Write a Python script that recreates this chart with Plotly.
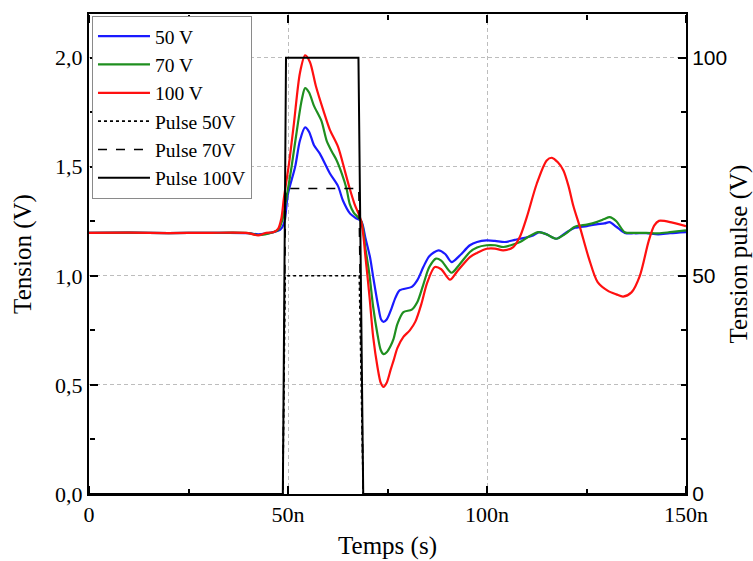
import plotly.graph_objects as go

# ---- data (time in ns, tension in V) ----
t_blue = [0, 10, 20, 30, 40, 42.5, 46.3, 48, 49, 50, 51.8, 53, 54.3, 55.3, 56.5, 58, 60.5, 62.6, 63.8, 65.6, 67, 68.4,
          69.5, 70.6, 71.4, 72.7, 73.4, 74, 74.8, 76, 77, 78.1, 81.1, 82.5, 84, 85.5, 87.8, 89.5, 91.1, 93, 95.7, 97.5,
          99.9, 102, 104.5, 107, 108.3, 111.6, 113.1, 115, 117.4, 120, 122.1, 125.1, 127.5, 129.5, 130.8, 132.5, 134.6,
          137, 140, 143, 146, 150]
v_blue = [1.197, 1.198, 1.196, 1.197, 1.196, 1.19, 1.2, 1.21, 1.24, 1.376, 1.5, 1.62, 1.68, 1.66, 1.60, 1.56, 1.47, 1.41,
          1.345, 1.285, 1.265, 1.25, 1.17, 1.086, 0.995, 0.857, 0.80, 0.789, 0.80, 0.85, 0.90, 0.934, 0.949, 0.98, 1.04,
          1.09, 1.117, 1.10, 1.063, 1.09, 1.14, 1.155, 1.162, 1.16, 1.155, 1.165, 1.17, 1.185, 1.20, 1.19, 1.17, 1.20,
          1.22, 1.228, 1.236, 1.24, 1.246, 1.225, 1.197, 1.195, 1.195, 1.19, 1.195, 1.20]

t_green = [0, 10, 20, 30, 40, 42.5, 46.3, 47.5, 48.5, 49.5, 50.9, 52.5, 53.5, 54.3, 55.3, 56.5, 58.4, 59.7, 61, 62.2,
           63.5, 64.7, 65.5, 66.5, 68.4, 69.5, 70.5, 71.4, 72.5, 73.3, 74, 74.8, 75.8, 76.5, 77.5, 79, 81.1, 82.5, 84,
           85.5, 87.2, 88.5, 91.1, 93, 95.7, 97.5, 99.9, 102, 104.1, 106, 108.3, 110.5, 112.9, 115, 117.4, 119.5, 122.1,
           125.1, 127.5, 129.5, 130.8, 132.5, 134.6, 137, 140, 143, 146, 150]
v_green = [1.197, 1.198, 1.196, 1.197, 1.196, 1.187, 1.2, 1.21, 1.25, 1.345, 1.5, 1.70, 1.81, 1.86, 1.84, 1.78, 1.71,
           1.62, 1.57, 1.53, 1.47, 1.40, 1.33, 1.29, 1.25, 1.12, 1.0, 0.857, 0.73, 0.66, 0.641, 0.65, 0.68, 0.71, 0.78,
           0.834, 0.845, 0.88, 0.96, 1.04, 1.079, 1.07, 1.014, 1.05, 1.109, 1.13, 1.14, 1.14, 1.132, 1.14, 1.155, 1.18,
           1.20, 1.19, 1.17, 1.19, 1.225, 1.235, 1.246, 1.26, 1.269, 1.25, 1.20, 1.197, 1.197, 1.195, 1.20, 1.208]

t_red = [0, 10, 20, 30, 40, 42.5, 44.5, 46.3, 47.5, 48.3, 49.0, 50.3, 51.5, 53, 54.3, 55.5, 57, 58.9, 60.5, 62.6, 64.3,
         65.5, 66.7, 68.4, 69.5, 70.5, 71.4, 72.5, 73.3, 74, 74.8, 75.8, 76.5, 77.5, 79, 80.6, 82, 83.5, 85, 86.9, 88.5,
         90.7, 92.5, 95.7, 97.5, 99.9, 102, 104.1, 106.6, 108.3, 110, 112.5, 115, 116.3, 117.8, 119.2, 120.5, 121.7,
         123.4, 125.6, 127.8, 130.3, 132.5, 134.2, 136.3, 138.4, 140.6, 142, 143.2, 146.6, 150]
v_red = [1.197, 1.198, 1.196, 1.197, 1.196, 1.185, 1.197, 1.20, 1.215, 1.26, 1.36, 1.52, 1.70, 1.93, 2.01, 1.98, 1.87,
         1.757, 1.67, 1.59, 1.48, 1.40, 1.33, 1.25, 1.08, 0.90, 0.72, 0.58, 0.51, 0.491, 0.51, 0.57, 0.61, 0.67, 0.72,
         0.75, 0.79, 0.87, 0.97, 1.04, 1.03, 0.982, 1.02, 1.086, 1.105, 1.124, 1.125, 1.117, 1.132, 1.18, 1.269, 1.422,
         1.529, 1.541, 1.52, 1.483, 1.41, 1.32, 1.22, 1.08, 0.971, 0.932, 0.915, 0.905, 0.924, 1.0, 1.158, 1.23, 1.252,
         1.244, 1.228]

# pulses (ns, V)
t_pulse50 = [0, 48.7, 49.3, 67.9, 68.9, 150]
v_pulse50 = [0, 0, 50, 50, 0, 0]
t_pulse70 = [0, 48.7, 49.4, 67.8, 68.9, 150]
v_pulse70 = [0, 0, 70, 70, 0, 0]
t_pulse100 = [0, 48.7, 49.5, 67.7, 68.9, 150]
v_pulse100 = [0, 0, 100, 100, 0, 0]

x_range = [0, 150]
y_range = [0, 2.2]
y2_range = [0, 110]
x_tickvals = [0, 50, 100, 150]
x_ticktext = ["0", "50n", "100n", "150n"]
y_tickvals = [0, 0.5, 1.0, 1.5, 2.0]
y_ticktext = ["0,0", "0,5", "1,0", "1,5", "2,0"]
y2_tickvals = [0, 50, 100]

SERIF = "Liberation Serif"
SANS = "Liberation Sans"

fig = go.Figure()
sp = dict(shape="spline", smoothing=0.8)
fig.add_trace(go.Scatter(x=t_blue, y=v_blue, mode="lines", name="50 V",
                         line=dict(color="#1a1aff", width=2.2, **sp)))
fig.add_trace(go.Scatter(x=t_green, y=v_green, mode="lines", name="70 V",
                         line=dict(color="#1f8f1f", width=2.2, **sp)))
fig.add_trace(go.Scatter(x=t_red, y=v_red, mode="lines", name="100 V",
                         line=dict(color="#ff1010", width=2.2, **sp)))
fig.add_trace(go.Scatter(x=t_pulse50, y=v_pulse50, mode="lines", name="Pulse 50V", yaxis="y2",
                         line=dict(color="black", width=1.6, dash="dot")))
fig.add_trace(go.Scatter(x=t_pulse70, y=v_pulse70, mode="lines", name="Pulse 70V", yaxis="y2",
                         line=dict(color="black", width=1.6, dash="dash")))
fig.add_trace(go.Scatter(x=t_pulse100, y=v_pulse100, mode="lines", name="Pulse 100V", yaxis="y2",
                         line=dict(color="black", width=2)))
# empty helper traces so the tick-only axes get drawn
fig.add_trace(go.Scatter(x=[], y=[], xaxis="x2", yaxis="y3", showlegend=False, hoverinfo="skip"))
fig.add_trace(go.Scatter(x=[], y=[], xaxis="x3", yaxis="y4", showlegend=False, hoverinfo="skip"))

grid = dict(showgrid=True, gridcolor="#bdbdbd", gridwidth=1, griddash="4px,3px")
# tick-only axes: "outside" ticks placed on the opposite edge so they point into the plot
tko = dict(ticks="outside", ticklen=8, tickwidth=2, tickcolor="#000000",
           showticklabels=False, showline=False, showgrid=False, zeroline=False, automargin=False)
mto = dict(ticks="outside", ticklen=5, tickwidth=2, tickcolor="#000000", showgrid=False)

fig.update_layout(
    width=753, height=561,
    margin=dict(l=89, r=67, t=14, b=67, autoexpand=False),
    plot_bgcolor="white", paper_bgcolor="white",
    font=dict(family=SERIF, size=22, color="black"),
    showlegend=True,
    legend=dict(x=0.005, y=0.996, xanchor="left", yanchor="top",
                bgcolor="white", bordercolor="#8a8a8a", borderwidth=1,
                font=dict(family=SERIF, size=19.5), tracegroupgap=0,
                itemwidth=52),
    xaxis=dict(range=x_range, tickvals=x_tickvals, ticktext=x_ticktext, ticks="",
               showline=True, linecolor="black", linewidth=2, mirror=True, automargin=False,
               tickfont=dict(family=SERIF, size=22),
               title=dict(text="Temps (s)", font=dict(family=SERIF, size=25), standoff=10),
               zeroline=False, **grid),
    yaxis=dict(range=y_range, tickvals=y_tickvals, ticktext=y_ticktext, ticks="",
               showline=True, linecolor="black", linewidth=2, automargin=False,
               tickfont=dict(family=SERIF, size=22),
               title=dict(text="Tension (V)", font=dict(family=SERIF, size=25), standoff=16),
               zeroline=False, **grid),
    yaxis2=dict(range=y2_range, overlaying="y", side="right", tickvals=y2_tickvals, ticks="",
                showline=True, linecolor="black", linewidth=2, automargin=False,
                tickfont=dict(family=SANS, size=21),
                title=dict(text="Tension pulse (V)", font=dict(family=SERIF, size=25), standoff=10),
                showgrid=False, zeroline=False),
    # bottom edge ticks (pointing up)
    xaxis2=dict(range=x_range, overlaying="x", side="top", anchor="free", position=0,
                tickvals=x_tickvals, minor=dict(dtick=25, tick0=0, **mto), **tko),
    # top edge ticks (pointing down)
    xaxis3=dict(range=x_range, overlaying="x", side="bottom", anchor="free", position=1,
                tickvals=x_tickvals, minor=dict(dtick=25, tick0=0, **mto), **tko),
    # left edge ticks (pointing right)
    yaxis3=dict(range=y_range, overlaying="y", side="right", anchor="free", position=0,
                tickvals=y_tickvals, minor=dict(dtick=0.25, tick0=0, **mto), **tko),
    # right edge ticks (pointing left)
    yaxis4=dict(range=y2_range, overlaying="y", side="left", anchor="free", position=1,
                tickvals=y2_tickvals, minor=dict(dtick=12.5, tick0=0, **mto), **tko),
)

fig.write_html("out.html")
